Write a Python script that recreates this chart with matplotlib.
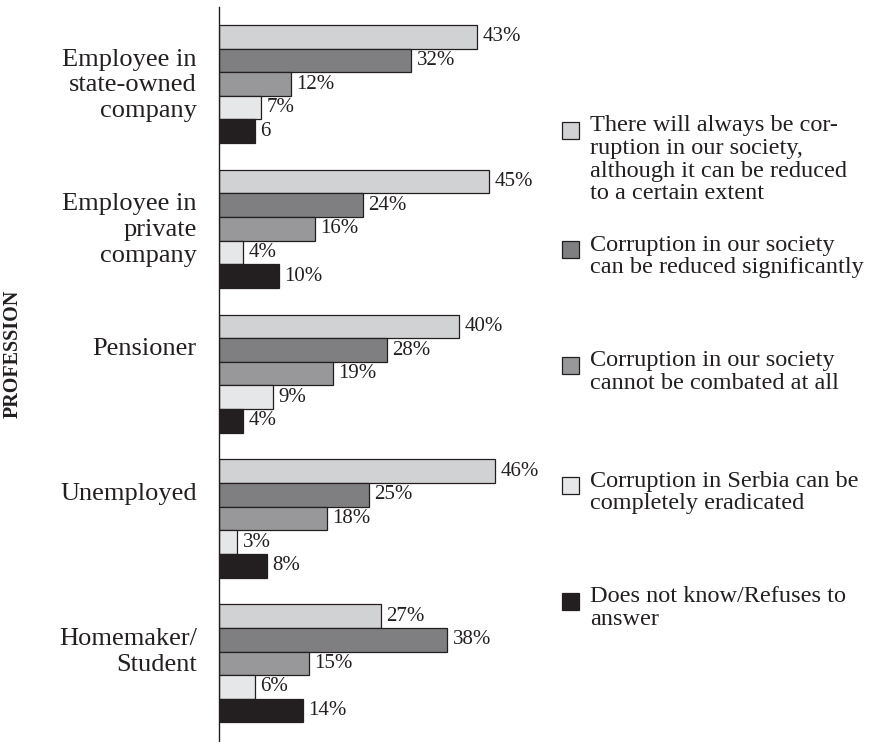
import matplotlib.pyplot as plt
from matplotlib.patches import Rectangle
import numpy as np

plt.rcParams["font.family"] = ["Liberation Serif", "DejaVu Serif"]

professions = [
    "Employee in\nstate-owned\ncompany",
    "Employee in\nprivate\ncompany",
    "Pensioner",
    "Unemployed",
    "Homemaker/\nStudent",
]

answers = [
    "There will always be cor-\nruption in our society,\nalthough it can be reduced\nto a certain extent",
    "Corruption in our society\ncan be reduced significantly",
    "Corruption in our society\ncannot be combated at all",
    "Corruption in Serbia can be\ncompletely eradicated",
    "Does not know/Refuses to\nanswer",
]

always_reduced = [43, 45, 40, 46, 27]
reduced_significantly = [32, 24, 28, 25, 38]
cannot_combat = [12, 16, 19, 18, 15]
eradicated = [7, 4, 9, 3, 6]
dont_know = [6, 10, 4, 8, 14]

series = [always_reduced, reduced_significantly, cannot_combat, eradicated, dont_know]
colors = ["#d1d2d4", "#7f7f82", "#98989b", "#e6e7e8", "#231f20"]

# the first "does not know" value is printed without a percent sign
no_percent = {(0, 4)}

W, H = 881, 742
fig = plt.figure(figsize=(W / 100, H / 100), dpi=100)
ax = fig.add_axes([219 / W, 0, 330 / W, (H - 7) / H])

group_step = 6.13
group_pos = np.arange(len(professions)) * group_step

for j, (vals, col) in enumerate(zip(series, colors)):
    y = group_pos + j
    ax.barh(y, vals, height=1.0, color=col, edgecolor="#231f20", linewidth=0.9)
    for i, (v, yy) in enumerate(zip(vals, y)):
        txt = f"{v}" if (i, j) in no_percent else f"{v}%"
        ax.annotate(txt, (v, yy), xytext=(4, 0), textcoords="offset points",
                    va="center", ha="left", fontsize=15, color="#231f20")

ax.set_xlim(0, 55)
ax.set_ylim(29.85, -1.26)

# category labels hang from the top of each group's second bar
ax.set_yticks(group_pos + 0.5)
ax.set_yticklabels(professions, fontsize=19, color="#231f20", linespacing=1.22)
for lbl in ax.get_yticklabels():
    lbl.set_va("top")
ax.tick_params(axis="y", length=0, pad=16)
ax.tick_params(axis="x", bottom=False, labelbottom=False)

for s in ["top", "right", "bottom"]:
    ax.spines[s].set_visible(False)
ax.spines["left"].set_color("#231f20")
ax.spines["left"].set_linewidth(1.0)

fig.text(13 / W, 1 - 354 / H, "PROFESSION", rotation=90, ha="center", va="center",
         fontsize=14.5, fontweight="bold", color="#231f20")

# legend built by hand so entries can sit at uneven heights
legend_y = [130, 249, 365, 485, 601]
sq = 17
for label, col, yc in zip(answers, colors, legend_y):
    fig.add_artist(Rectangle((562 / W, 1 - (yc + sq / 2) / H), sq / W, sq / H,
                             transform=fig.transFigure, facecolor=col,
                             edgecolor="#231f20", linewidth=0.9))
    fig.text(590 / W, 1 - (yc - sq / 2 - 6) / H, label, ha="left", va="top",
             fontsize=17.5, color="#231f20", linespacing=1.1)

fig.savefig("out.png", dpi=100)
